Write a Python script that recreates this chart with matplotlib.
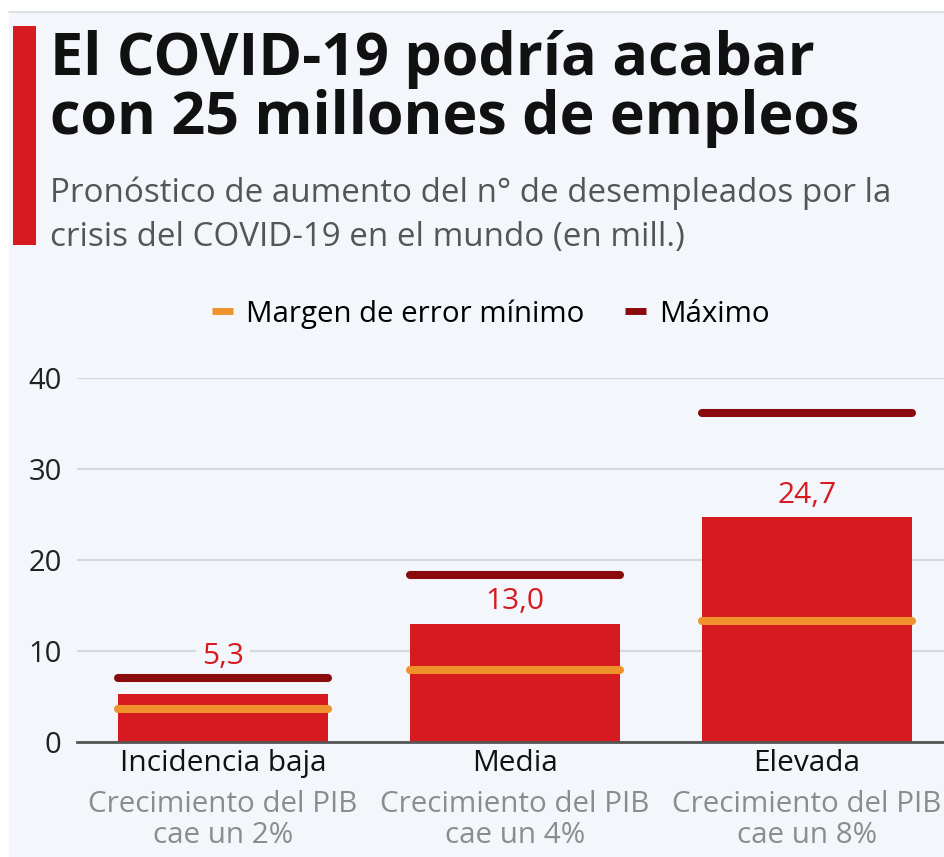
import matplotlib
matplotlib.use("Agg")
import matplotlib.pyplot as plt
from matplotlib.lines import Line2D
from matplotlib.patches import Rectangle

plt.rcParams['font.family'] = ['Open Sans', 'DejaVu Sans']

# data (millones de desempleados)
categories = ['Incidencia baja', 'Media', 'Elevada']
subtitles = ['Crecimiento del PIB\ncae un 2%', 'Crecimiento del PIB\ncae un 4%', 'Crecimiento del PIB\ncae un 8%']
values = [5.3, 13.0, 24.7]
min_margin = [3.6, 7.9, 13.3]
max_margin = [7.0, 18.4, 36.1]
yticks = [0, 10, 20, 30, 40]

RED = '#d71920'
ORANGE = '#f0922b'
DARKRED = '#8a0a0e'
BG = '#f3f6fa'

W, H = 944, 857
fig = plt.figure(figsize=(W / 100, H / 100), dpi=100, facecolor='white')

def fx(x):
    return x / W

def fy(y):
    return 1 - y / H

# panel background and top rule
fig.add_artist(Rectangle((fx(9), 0), 1 - fx(9), fy(12), transform=fig.transFigure,
                         facecolor=BG, edgecolor='none', zorder=-10))
fig.add_artist(Line2D([fx(9), 1], [fy(12), fy(12)], color='#d8dbe0', lw=1.2, zorder=-5))

# red accent bar
fig.add_artist(Rectangle((fx(13), fy(245)), fx(23), fy(26) - fy(245), transform=fig.transFigure,
                         facecolor=RED, edgecolor='none', zorder=1))

# title and subtitle
fig.text(fx(50), fy(75), 'El COVID-19 podría acabar', fontsize=42.7, fontweight='bold',
         color='#111111', va='baseline', ha='left')
fig.text(fx(50), fy(134), 'con 25 millones de empleos', fontsize=42.7, fontweight='bold',
         color='#111111', va='baseline', ha='left')
fig.text(fx(50), fy(202), 'Pronóstico de aumento del n° de desempleados por la', fontsize=23.9,
         color='#555555', va='baseline', ha='left')
fig.text(fx(50), fy(246), 'crisis del COVID-19 en el mundo (en mill.)', fontsize=23.9,
         color='#555555', va='baseline', ha='left')

# chart area
ax = fig.add_axes([fx(77), fy(742), 1 - fx(77), fy(378) - fy(742)])
ax.set_facecolor('none')
x = list(range(len(categories)))
bw = 0.72
ax.bar(x, values, width=bw, color=RED, zorder=2)
ax.hlines(min_margin, [i - bw / 2 for i in x], [i + bw / 2 for i in x], colors=ORANGE,
          lw=5.8, zorder=3, capstyle='round')
ax.hlines(max_margin, [i - bw / 2 for i in x], [i + bw / 2 for i in x], colors=DARKRED,
          lw=5.8, zorder=3, capstyle='round')

for i, v in enumerate(values):
    anchor = v if max_margin[i] - v > 3 else max_margin[i]
    ax.annotate(f'{v:.1f}'.replace('.', ','), (i, anchor), xytext=(0, 16), textcoords='offset points',
                ha='center', va='center', fontsize=21.5, color=RED, zorder=1,
                bbox=dict(boxstyle='square,pad=0.2', facecolor=BG, edgecolor='none'))

ax.set_xlim(-0.5, 2.47)
ax.set_ylim(0, 40)
ax.set_yticks(yticks)
ax.set_yticklabels([str(t) for t in yticks], fontsize=21, color='#222222')
ax.tick_params(axis='y', length=0, pad=11)
ax.set_xticks(x)
ax.set_xticklabels(categories, fontsize=21.5, color='#111111')
ax.tick_params(axis='x', length=0, pad=5)
for i, s in enumerate(subtitles):
    ax.text(i, -0.133, s, transform=ax.get_xaxis_transform(), ha='center', va='top',
            fontsize=21.3, color='#8c8c8c', linespacing=1.08)

ax.yaxis.grid(True, color='#d5d9de', lw=1.6, zorder=0)
ax.set_axisbelow(True)
for side in ['top', 'right', 'left']:
    ax.spines[side].set_visible(False)
ax.spines['bottom'].set_color('#555555')
ax.spines['bottom'].set_linewidth(2)
ax.spines['bottom'].set_zorder(2.5)

# legend
handles = [Line2D([], [], color=ORANGE, lw=5, solid_capstyle='butt'),
           Line2D([], [], color=DARKRED, lw=5, solid_capstyle='butt')]
fig.legend(handles, ['Margen de error mínimo', 'Máximo'], loc='center',
           bbox_to_anchor=(fx(491), fy(314)), ncol=2, frameon=False, fontsize=21.2,
           handlelength=0.7, handletextpad=0.45, columnspacing=1.4)

fig.savefig('out.png', dpi=100, facecolor='white')
